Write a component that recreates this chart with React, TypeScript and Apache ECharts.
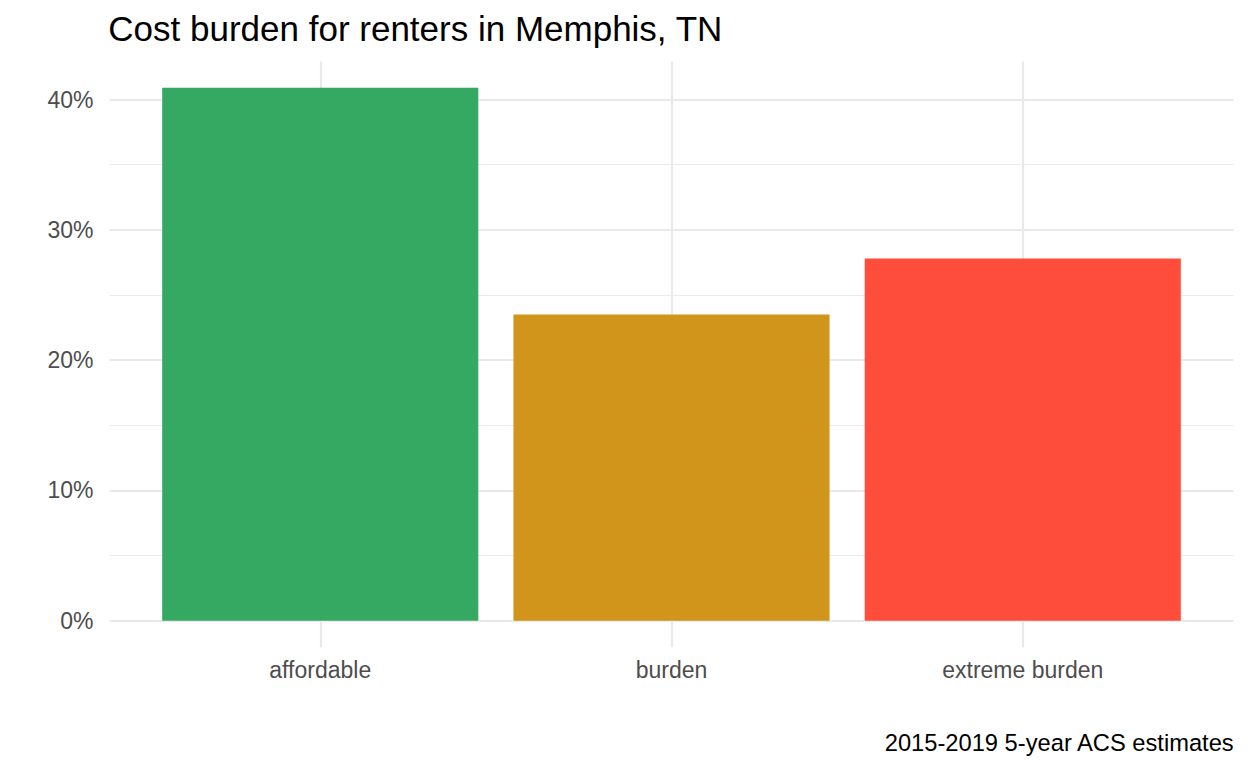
import React, { useEffect, useRef } from 'react';
import * as echarts from 'echarts';

const categories = ['affordable', 'burden', 'extreme burden'];
const shares = [40.9, 23.5, 27.8];
const barColors = ['#35A862', '#D2951C', '#FF4D3B'];
const yTicks = [0, 10, 20, 30, 40];
const titleText = 'Cost burden for renters in Memphis, TN';
const captionText = '2015-2019 5-year ACS estimates';

const FONT = "'Liberation Sans', Arial, Helvetica, sans-serif";

export default function App() {
  const ref = useRef<HTMLDivElement>(null);
  useEffect(() => {
    const el = ref.current;
    if (!el) return;
    const chart = echarts.init(el, null, { renderer: 'svg' });

    const L = 109.5;
    const R = 1233.5;
    const unit = (R - L) / 3.2;
    const bLeft = L + 0.1 * unit;
    const bRight = 1248 - (R - 0.1 * unit);
    const y0 = 620.7;
    const y40 = 99.5;
    const pxPerPct = (y0 - y40) / yTicks[yTicks.length - 1];
    const yTop = y0 - 42.92 * pxPerPct;
    const yBottom = y0 + 2.044 * pxPerPct;

    const slots = Array.from({ length: categories.length * 2 + 1 }, (_, i) => 's' + i);
    const major = { color: '#E9E9E9', width: 2.2 };

    chart.setOption({
      animation: false,
      backgroundColor: '#FFFFFF',
      textStyle: { fontFamily: FONT },
      grid: [
        { left: bLeft, right: bRight, top: yTop, height: yBottom - yTop, outerBoundsMode: 'none' },
        { left: L, right: 1248 - R, top: y40, height: y0 - y40, outerBoundsMode: 'none' },
        { left: bLeft, right: bRight, top: y40, height: y0 - y40, outerBoundsMode: 'none' },
      ],
      xAxis: [
        {
          gridIndex: 0,
          type: 'category',
          boundaryGap: false,
          data: slots,
          axisLine: { show: false },
          axisTick: { show: false },
          axisLabel: { show: false },
          splitLine: { show: true, interval: (i: number) => i % 2 === 1, lineStyle: major },
        },
        { gridIndex: 1, type: 'value', min: 0, max: 1, show: false },
        {
          gridIndex: 2,
          type: 'category',
          data: categories,
          axisLine: { show: false },
          axisTick: { show: false },
          splitLine: { show: false },
          axisLabel: { margin: 38, fontSize: 23, color: '#4D4D4D', fontFamily: FONT },
        },
      ],
      yAxis: [
        { gridIndex: 0, type: 'value', min: 0, max: 1, show: false },
        {
          gridIndex: 1,
          type: 'value',
          min: yTicks[0],
          max: yTicks[yTicks.length - 1],
          interval: 10,
          axisLine: { show: false },
          axisTick: { show: false },
          axisLabel: {
            margin: 16,
            fontSize: 23,
            color: '#4D4D4D',
            fontFamily: FONT,
            formatter: (v: number) => v + '%',
          },
          splitLine: { show: true, lineStyle: major },
          minorTick: { show: false, splitNumber: 2 },
          minorSplitLine: { show: true, lineStyle: { color: '#EBEBEB', width: 1.2 } },
        },
        { gridIndex: 2, type: 'value', min: yTicks[0], max: yTicks[yTicks.length - 1], show: false },
      ],
      series: [
        {
          type: 'bar',
          xAxisIndex: 2,
          yAxisIndex: 2,
          barWidth: '90%',
          clip: false,
          data: shares.map((v, i) => ({ value: v, itemStyle: { color: barColors[i] } })),
        },
      ],
      graphic: [
        {
          type: 'text',
          x: 108.3,
          y: 28.2,
          style: {
            text: titleText,
            fontSize: 35,
            fontFamily: FONT,
            fill: '#000000',
            align: 'left',
            verticalAlign: 'middle',
          },
        },
        {
          type: 'text',
          x: 1233.7,
          y: 743,
          style: {
            text: captionText,
            fontSize: 23.7,
            fontFamily: FONT,
            fill: '#000000',
            align: 'right',
            verticalAlign: 'middle',
          },
        },
      ],
    });
    return () => chart.dispose();
  }, []);

  return (
    <div
      ref={ref}
      style={{ position: 'fixed', left: 0, top: 0, width: 1248, height: 768, background: '#FFFFFF' }}
    />
  );
}
